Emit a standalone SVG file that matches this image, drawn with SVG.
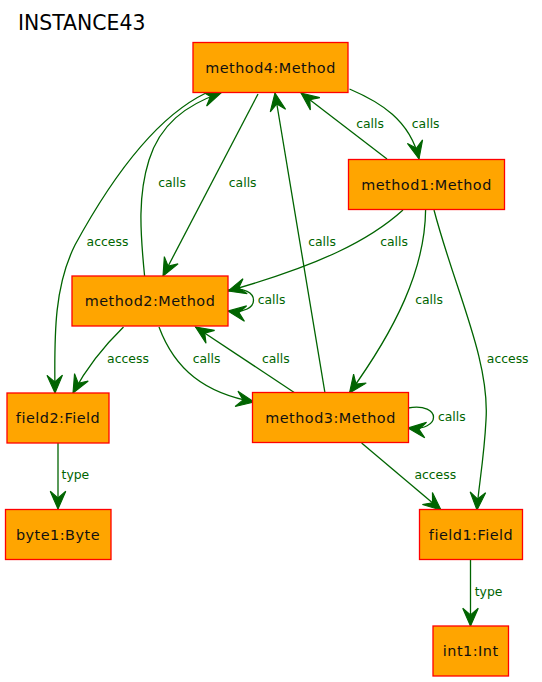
<svg xmlns="http://www.w3.org/2000/svg" width="542" height="682" viewBox="0 0 542 682">
<style>
.node rect{fill:#FFA500;stroke:#FF0000;stroke-width:1.3}
.node text{font-family:"DejaVu Sans",sans-serif;font-size:14.4px;letter-spacing:0.5px;fill:#111;text-anchor:middle}
.edge{fill:none;stroke:#006400;stroke-width:1.3}
.lbl{font-family:"DejaVu Sans",sans-serif;font-size:12.4px;fill:#006400;text-anchor:middle}
.title{font-family:"DejaVu Sans",sans-serif;font-size:20.4px;fill:#000}
</style>
<defs>
<marker id="ah" markerUnits="userSpaceOnUse" markerWidth="20" markerHeight="20" viewBox="-17 -8 18 16" refX="0" refY="0" orient="auto">
<path d="M0,0 L-16,-7 L-10,0 L-16,7 Z" fill="#006400" stroke="#006400" stroke-width="1"/>
</marker>
</defs>
<rect width="542" height="682" fill="#fff"/>
<text class="title" x="18" y="30">INSTANCE43</text>
<g id="connectors">
<path class="edge" marker-end="url(#ah)" d="M206,93 C150,120 105,190 75,245 C55,285 54,330 55,393"/>
<path class="edge" marker-end="url(#ah)" d="M144.6,276 C140,230 138,195 149,160 C160,125 185,105 221,93"/>
<path class="edge" marker-end="url(#ah)" d="M258,94 L163,276"/>
<path class="edge" marker-end="url(#ah)" d="M325,393 L275,93"/>
<path class="edge" marker-end="url(#ah)" d="M387,159 L301,93"/>
<path class="edge" marker-end="url(#ah)" d="M349.5,89 C380,102 410,120 419,159"/>
<path class="edge" marker-end="url(#ah)" d="M403,210 C370,240 320,265 228,291"/>
<path class="edge" marker-end="url(#ah)" d="M425.6,210 C425,270 395,330 349.5,393"/>
<path class="edge" marker-end="url(#ah)" d="M434,210 C455,290 490,360 486,420 C484,460 478,490 477,510"/>
<path class="edge" marker-end="url(#ah)" d="M123.5,327 C105,345 88,365 73,393"/>
<path class="edge" marker-end="url(#ah)" d="M159,327 C175,370 205,393 254,402"/>
<path class="edge" marker-end="url(#ah)" d="M295,393 L195.5,327"/>
<path class="edge" marker-end="url(#ah)" d="M228,290 C262,284 262,316 228,311"/>
<path class="edge" marker-end="url(#ah)" d="M408,408 C442,402 442,432 408,428"/>
<path class="edge" marker-end="url(#ah)" d="M361.6,443 L441,510"/>
<path class="edge" marker-end="url(#ah)" d="M58,443 L58,509"/>
<path class="edge" marker-end="url(#ah)" d="M470.5,559 L470.5,626"/>
<text class="lbl" x="107.5" y="246">access</text>
<text class="lbl" x="172" y="187">calls</text>
<text class="lbl" x="242.7" y="187">calls</text>
<text class="lbl" x="322" y="246">calls</text>
<text class="lbl" x="370" y="128">calls</text>
<text class="lbl" x="425.7" y="128">calls</text>
<text class="lbl" x="394" y="246">calls</text>
<text class="lbl" x="429" y="304">calls</text>
<text class="lbl" x="507.7" y="363">access</text>
<text class="lbl" x="128" y="363">access</text>
<text class="lbl" x="206.6" y="363">calls</text>
<text class="lbl" x="275.8" y="363">calls</text>
<text class="lbl" x="271.6" y="304">calls</text>
<text class="lbl" x="451.8" y="421">calls</text>
<text class="lbl" x="435.3" y="479">access</text>
<text class="lbl" x="75.4" y="479">type</text>
<text class="lbl" x="488.6" y="596">type</text>
</g>
<g id="method4" class="node"><rect x="193" y="42.5" width="155" height="50"/><text x="270.5" y="72.5">method4:Method</text></g>
<g id="method1" class="node"><rect x="348.5" y="159.5" width="156" height="50"/><text x="426.5" y="189.5">method1:Method</text></g>
<g id="method2" class="node"><rect x="72" y="276" width="156" height="50"/><text x="150" y="306">method2:Method</text></g>
<g id="field2" class="node"><rect x="7" y="393" width="102" height="50"/><text x="58" y="423">field2:Field</text></g>
<g id="method3" class="node"><rect x="252.5" y="392.5" width="156" height="50"/><text x="330.5" y="422.5">method3:Method</text></g>
<g id="byte1" class="node"><rect x="5.5" y="509.5" width="105.5" height="50"/><text x="58" y="539.5">byte1:Byte</text></g>
<g id="field1" class="node"><rect x="419.5" y="509.5" width="103" height="50"/><text x="471" y="539.5">field1:Field</text></g>
<g id="int1" class="node"><rect x="433" y="626" width="75.5" height="50"/><text x="470.7" y="656">int1:Int</text></g>
</svg>
